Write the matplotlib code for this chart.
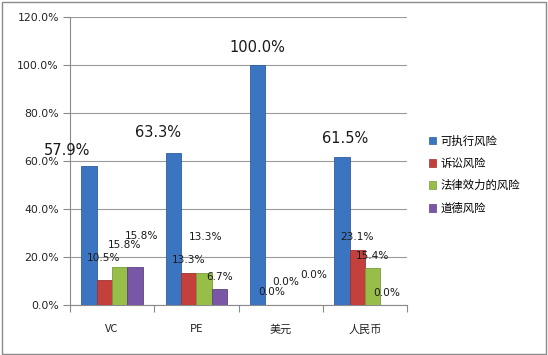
import matplotlib
matplotlib.use("Agg")
import matplotlib.pyplot as plt
from matplotlib.patches import Rectangle, Patch
import numpy as np

plt.rcParams['font.family'] = ['Noto Sans CJK SC', 'DejaVu Sans']

categories = ["VC", "PE", "美元", "人民币"]
series_names = ["可执行风险", "诉讼风险", "法律效力的风险", "道德风险"]
exec_risk = [57.9, 63.3, 100.0, 61.5]
lawsuit_risk = [10.5, 13.3, 0.0, 23.1]
legal_risk = [15.8, 13.3, 0.0, 15.4]
moral_risk = [15.8, 6.7, 0.0, 0.0]
series = [exec_risk, lawsuit_risk, legal_risk, moral_risk]
y_ticks = [0, 20, 40, 60, 80, 100, 120]

colors = ["#3B75C2", "#C4403C", "#97BE48", "#7A56A6"]
edge_colors = ["#2F5E9C", "#9E3330", "#7A9A3A", "#5F4284"]

# label offsets in pixels (dx, dy) relative to bar top center
label_offsets = [
    [(-22, 16), (-15, 21), (0, 18), (3, 19)],
    [(-1, 22), (0, 13), (-1, 13), (0, 13)],
    [(5, 22), (2, 36), (-3, 23), (0, 12)],
    [(6, 31), (0, 12), (10, 30), (-1, 12)],
]

fig = plt.figure(figsize=(5.48, 3.55), dpi=100)
ax = fig.add_axes([70/548, 1-305/355, 337/548, 288/355])

n = len(series)
width = 0.182
x = np.arange(len(categories))
for i, (vals, c, ec) in enumerate(zip(series, colors, edge_colors)):
    pos = x + (i - (n - 1) / 2) * width
    ax.bar(pos, vals, width=width, color=c, edgecolor=ec, linewidth=0.6, zorder=3)
    for j, (px, v) in enumerate(zip(pos, vals)):
        dx, dy = label_offsets[i][j]
        fs = 10.5 if i == 0 else 7.6
        ax.annotate(f"{v:.1f}%", xy=(px, v), xytext=(dx, dy), textcoords='offset pixels',
                    ha='center', va='center', fontsize=fs, color='#1a1a1a',
                    family=['DejaVu Sans'], zorder=5)

ax.set_xlim(-0.5, len(categories) - 0.5)
ax.set_ylim(0, 120)
ax.set_yticks(y_ticks)
ax.set_yticklabels([f"{t:.1f}%" for t in y_ticks], fontsize=7.8, color='#222222', family=['DejaVu Sans'])
ax.yaxis.grid(True, color='#9a9a9a', linewidth=0.8, zorder=0)
ax.set_axisbelow(True)

ax.set_xticks(np.arange(-0.5, len(categories), 1.0))
ax.set_xticklabels([])
ax.set_xticks(x, minor=True)
ax.set_xticklabels(categories, minor=True, fontsize=8, color='#222222')
ax.tick_params(axis='x', which='minor', length=0, pad=14)
ax.tick_params(axis='x', which='major', length=5, color='#8a8a8a', direction='out')
ax.tick_params(axis='y', length=5, color='#8a8a8a', direction='out', pad=3)

for s in ['top', 'right']:
    ax.spines[s].set_visible(False)
for s in ['left', 'bottom']:
    ax.spines[s].set_color('#8a8a8a')
    ax.spines[s].set_linewidth(0.8)

handles = [Patch(facecolor=c, edgecolor=ec, linewidth=0.5) for c, ec in zip(colors, edge_colors)]
fig.legend(handles, series_names, loc='upper left', bbox_to_anchor=(424/548, 1-131/355),
           frameon=False, fontsize=8.2, handlelength=0.65, handleheight=0.65,
           handletextpad=0.4, labelspacing=1.0, borderaxespad=0)

fig.patches.append(Rectangle((0.003, 0.004), 0.993, 0.99, transform=fig.transFigure,
                             fill=False, edgecolor='#8a8a8a', linewidth=1.0))

fig.savefig("out.png", dpi=100)
